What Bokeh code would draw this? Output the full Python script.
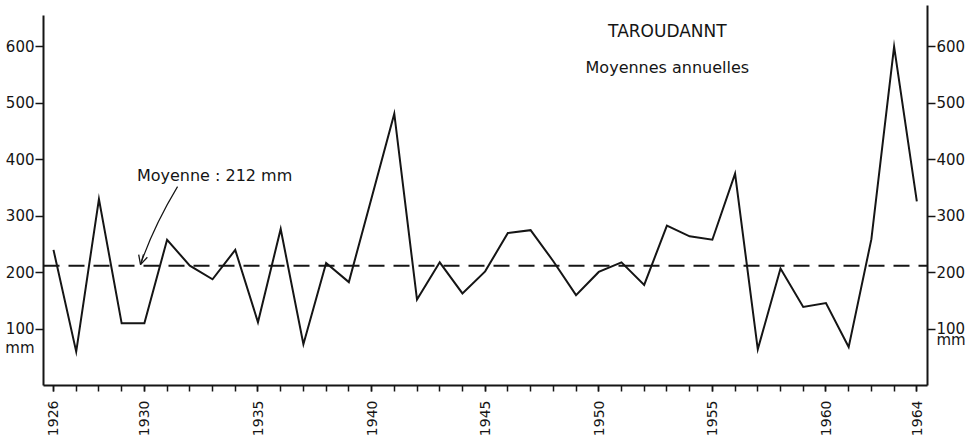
import math
from bokeh.plotting import figure
from bokeh.models import LinearAxis, FixedTicker, Span, Label, Arrow, OpenHead, Range1d
from bokeh.embed import file_html
from bokeh.resources import INLINE

# ---- data ----
years = list(range(1926, 1965))
rainfall_mm = [240, 60, 330, 110, 110, 258, 212, 188, 240, 112,
               277, 73, 217, 183, 332, 481, 152, 218, 163, 202,
               270, 275, 220, 160, 201, 218, 178, 283, 264, 258,
               375, 64, 207, 139, 146, 68, 259, 600, 326]
mean_mm = 212
year_tick_labels = [1926, 1930, 1935, 1940, 1945, 1950, 1955, 1960, 1964]
mm_ticks = [100, 200, 300, 400, 500, 600]

title_text = "TAROUDANNT"
subtitle_text = "Moyennes annuelles"
mean_text = "Moyenne : 212 mm"
unit_text = "mm"

FONT = "DejaVu Sans"
INK = "#151515"

p = figure(width=970, height=440, output_backend="svg", toolbar_location=None,
           x_range=Range1d(1925.56, 1964.47), y_range=Range1d(0, 672.6),
           x_axis_type=None, y_axis_type=None,
           min_border_left=43, min_border_right=43, min_border_top=5,
           min_border_bottom=55)
p.outline_line_color = None
p.background_fill_color = "white"
p.border_fill_color = "white"


def style_axis(ax, size):
    ax.axis_line_color = INK
    ax.axis_line_width = 2
    ax.major_tick_line_color = INK
    ax.major_tick_line_width = 1.5
    ax.minor_tick_line_color = INK
    ax.minor_tick_line_width = 1.5
    ax.major_tick_in = 0
    ax.minor_tick_in = 0
    ax.major_label_text_font = FONT
    ax.major_label_text_font_size = size
    ax.major_label_text_color = INK


# bottom axis: a tick for every year, labels on a few
xaxis = LinearAxis(ticker=FixedTicker(ticks=year_tick_labels, minor_ticks=years))
style_axis(xaxis, "14px")
xaxis.major_tick_out = 6
xaxis.minor_tick_out = 6
xaxis.major_label_orientation = math.pi / 2
xaxis.major_label_standoff = 9
p.add_layout(xaxis, "below")


# left and right mm axes: tick marks drawn as "minor" ticks, labels as
# major ticks so that the unit "mm" can sit under the 100 label
def mm_axis(unit_pos, top):
    ax = LinearAxis(ticker=FixedTicker(ticks=[unit_pos] + mm_ticks, minor_ticks=mm_ticks),
                    bounds=(0, top))
    style_axis(ax, "15px")
    ax.major_tick_line_color = None
    ax.major_tick_out = 8
    ax.minor_tick_out = 8
    ax.major_label_standoff = 1
    ax.major_label_overrides = {unit_pos: unit_text}
    return ax


p.add_layout(mm_axis(67, 655), "left")
p.add_layout(mm_axis(80, 672.6), "right")

# mean line
p.add_layout(Span(location=mean_mm, dimension="width", line_color=INK,
                  line_width=2, line_dash="16 9"))

# rainfall series
p.line(years, rainfall_mm, line_color=INK, line_width=2, line_join="miter")

# texts
p.add_layout(Label(x=1953.02, y=628, text=title_text, text_font=FONT,
                   text_font_size="17px", text_align="center",
                   text_baseline="middle", text_color=INK))
p.add_layout(Label(x=1953.02, y=563, text=subtitle_text, text_font=FONT,
                   text_font_size="16px", text_align="center",
                   text_baseline="middle", text_color=INK))
p.add_layout(Label(x=1933.09, y=372, text=mean_text, text_font=FONT,
                   text_font_size="16px", text_align="center",
                   text_baseline="middle", text_color=INK))

# curved pointer from the label to the mean line
p.quadratic(x0=[1931.46], y0=[352], x1=[1929.83], y1=[214],
            cx=[1930.40], cy=[281], line_color=INK, line_width=1.2)
p.add_layout(Arrow(end=OpenHead(size=9, line_width=1.3, line_color=INK),
                   x_start=1929.96, y_start=232, x_end=1929.83, y_end=214,
                   line_color=INK, line_width=1.2))

open("out.html", "w").write(file_html(p, INLINE))
